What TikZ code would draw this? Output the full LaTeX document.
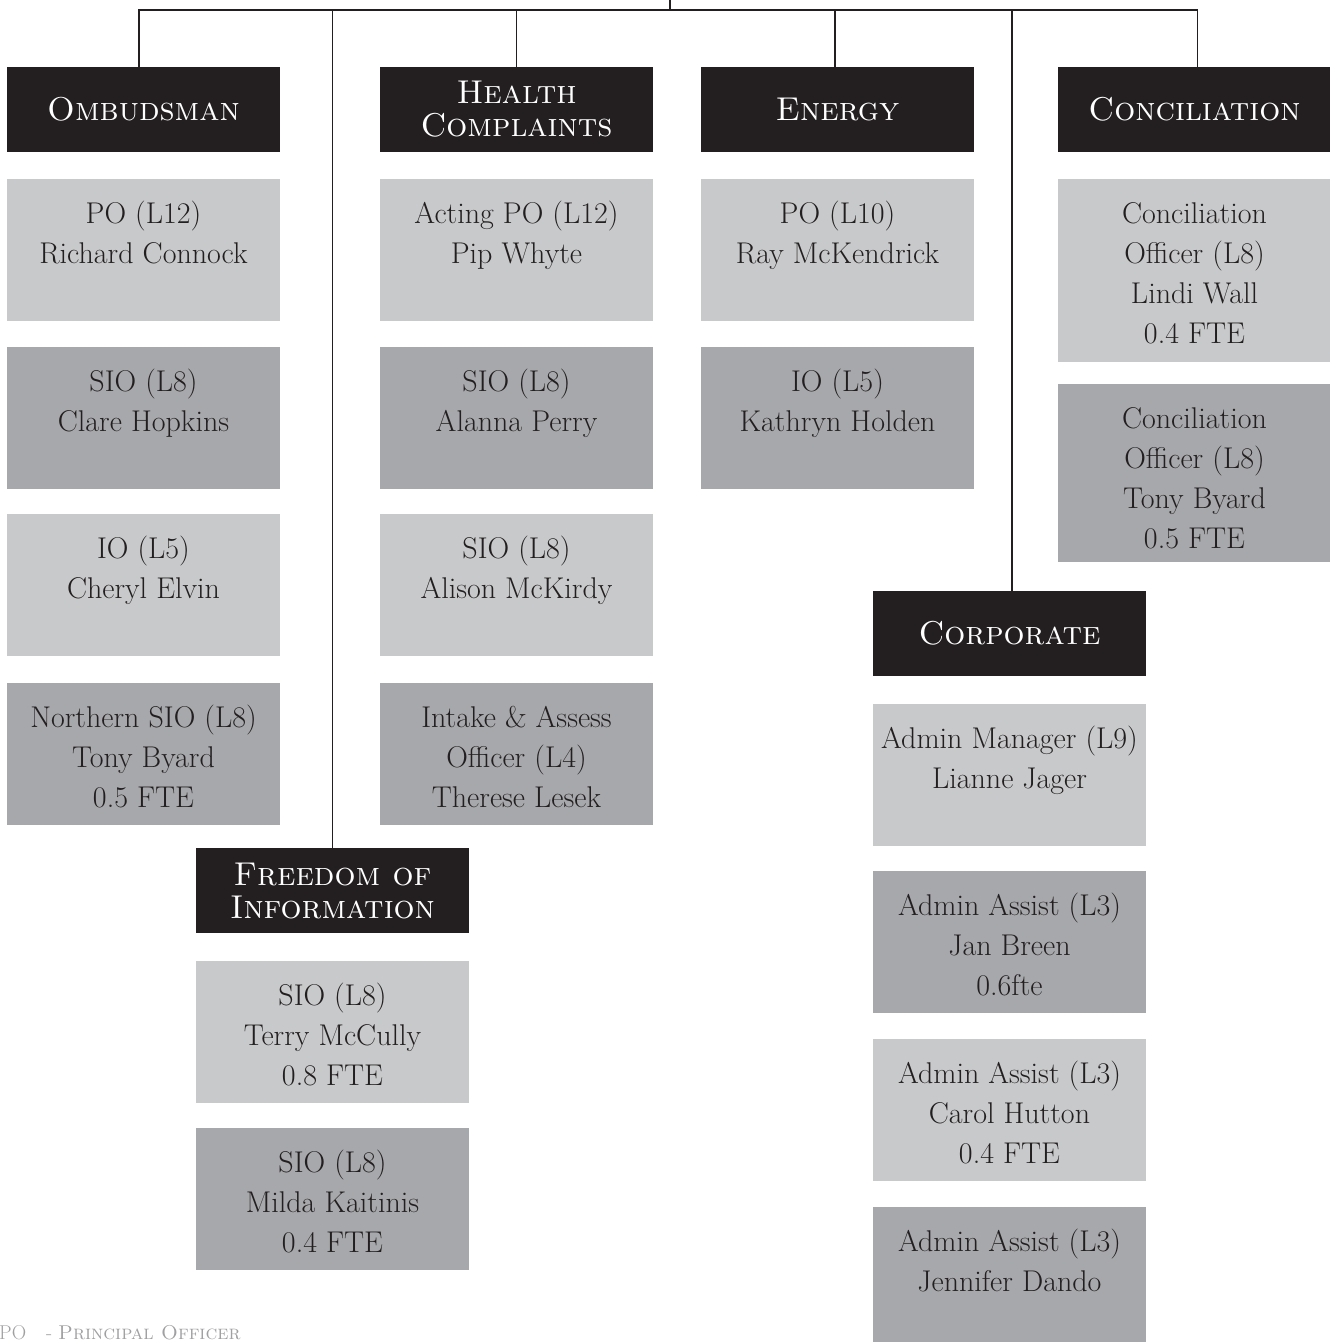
\documentclass[tikz,border=0pt]{standalone}
\usepackage{fontspec}
\definecolor{hdr}{HTML}{231F20}
\definecolor{lightbox}{HTML}{C8C9CB}
\definecolor{darkbox}{HTML}{A7A8AB}
\definecolor{txt}{HTML}{231F20}
\definecolor{legendgray}{HTML}{A0A0A3}
\tikzset{
  boxbase/.style={draw=none, inner sep=0pt, outer sep=0pt, minimum width=273pt, anchor=north west},
  lightcell/.style={boxbase, fill=lightbox},
  darkcell/.style={boxbase, fill=darkbox},
  stafftext/.style={inner sep=0pt, outer sep=0pt, align=center, text=txt, font=\fontsize{30}{40}\selectfont},
  header/.style={draw=none, fill=hdr, text=white, inner sep=0pt, outer sep=0pt, minimum width=273pt, minimum height=85pt, anchor=north west, align=center, font=\fontsize{33}{33}\selectfont\scshape},
  link/.style={draw=hdr, line width=1.8pt}
}
\newcommand\staffbox[6]{%
  \node[#5, minimum height=#4pt] (#1) at (#2,#3) {};
  \node[stafftext, anchor=north] (#1t) at ([yshift=-16pt]#1.north) {\strut #6};
}
\begin{document}
\begin{tikzpicture}[x=1pt,y=-1pt]
\clip (0,0) rectangle (1330,1342);
\fill[white] (0,0) rectangle (1330,1342);

% headers
\node[header] (omb) at (7,67) {Ombudsman};
\node[header] (health) at (380,67) {Health\\Complaints};
\node[header] (energy) at (701,67) {Energy};
\node[header] (conc) at (1058,67) {Conciliation};
\node[header] (foi) at (196,848) {Freedom of\\Information};
\node[header] (corp) at (873,591) {Corporate};

% connectors
\coordinate (root) at (670,0);
\coordinate (bus) at (670,10);
\draw[link] (root) -- (bus);
\draw[link] ([xshift=-4.5pt]omb.north) |- (bus) -| ([xshift=3pt]conc.north);
\draw[link] (health.north) -- (health.north |- bus);
\draw[link] ([xshift=-2.5pt]energy.north) -- ([xshift=-2.5pt]energy.north |- bus);
\draw[link] (foi.north) -- (foi.north |- bus);
\draw[link] ([xshift=2.5pt]corp.north) -- ([xshift=2.5pt]corp.north |- bus);

% Ombudsman
\staffbox{o1}{7}{179}{142}{lightcell}{PO (L12)\\Richard Connock}
\staffbox{o2}{7}{347}{142}{darkcell}{SIO (L8)\\Clare Hopkins}
\staffbox{o3}{7}{514}{142}{lightcell}{IO (L5)\\Cheryl Elvin}
\staffbox{o4}{7}{683}{142}{darkcell}{Northern SIO (L8)\\Tony Byard\\0.5 FTE}

% Health Complaints
\staffbox{h1}{380}{179}{142}{lightcell}{Acting PO (L12)\\Pip Whyte}
\staffbox{h2}{380}{347}{142}{darkcell}{SIO (L8)\\Alanna Perry}
\staffbox{h3}{380}{514}{142}{lightcell}{SIO (L8)\\Alison McKirdy}
\staffbox{h4}{380}{683}{142}{darkcell}{Intake \& Assess\\Officer (L4)\\Therese Lesek}

% Energy
\staffbox{e1}{701}{179}{142}{lightcell}{PO (L10)\\Ray McKendrick}
\staffbox{e2}{701}{347}{142}{darkcell}{IO (L5)\\Kathryn Holden}

% Conciliation
\staffbox{c1}{1058}{179}{183}{lightcell}{Conciliation\\Officer (L8)\\Lindi Wall\\0.4 FTE}
\staffbox{c2}{1058}{384}{178}{darkcell}{Conciliation\\Officer (L8)\\Tony Byard\\0.5 FTE}

% Freedom of Information
\staffbox{f1}{196}{961}{142}{lightcell}{SIO (L8)\\Terry McCully\\0.8 FTE}
\staffbox{f2}{196}{1128}{142}{darkcell}{SIO (L8)\\Milda Kaitinis\\0.4 FTE}

% Corporate
\staffbox{k1}{873}{704}{142}{lightcell}{Admin Manager (L9)\\Lianne Jager}
\staffbox{k2}{873}{871}{142}{darkcell}{Admin Assist (L3)\\Jan Breen\\0.6fte}
\staffbox{k3}{873}{1039}{142}{lightcell}{Admin Assist (L3)\\Carol Hutton\\0.4 FTE}
\staffbox{k4}{873}{1207}{142}{darkcell}{Admin Assist (L3)\\Jennifer Dando}

% legend
\node[anchor=base west, inner sep=0pt, text=legendgray, font=\fontsize{20}{24}\selectfont] (legend) at (-1,1339) {PO\quad- \textsc{Principal Officer}};
\end{tikzpicture}
\end{document}
